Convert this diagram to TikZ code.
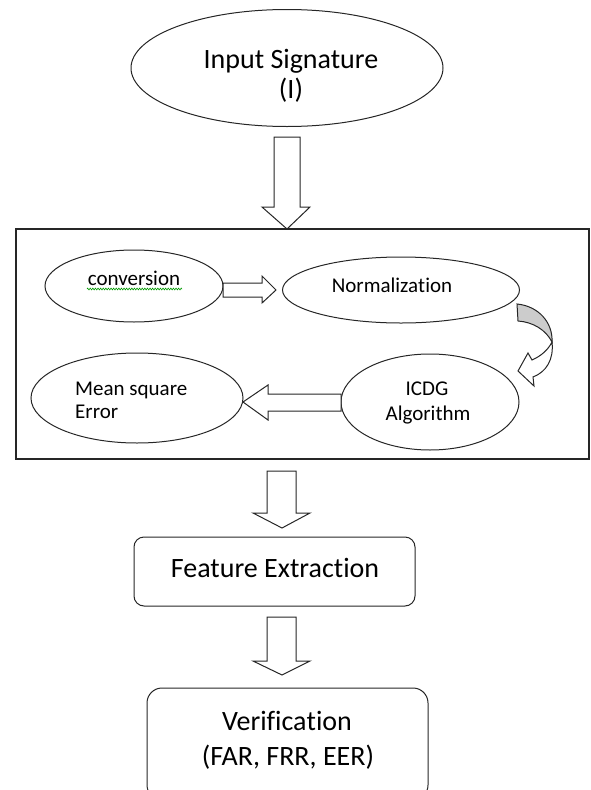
\documentclass[tikz,border=0pt]{standalone}
\usepackage{fontspec}
\setmainfont{Carlito}
\newcommand\brk{\kern0pt}
\usetikzlibrary{shapes.geometric,decorations.pathmorphing}
\begin{document}
\begin{tikzpicture}[x=1pt,y=-1pt,
  shapeline/.style={draw=black!85, line width=1pt},
  ell/.style={shapeline, ellipse, inner sep=0pt},
  bigtxt/.style={font=\fontsize{28}{30}\selectfont, anchor=base, inner sep=0pt},
  smalltxt/.style={font=\fontsize{21}{23}\selectfont, anchor=base, inner sep=0pt},
  blockarrow/.style={shapeline, fill=white, line join=miter},
]
\useasboundingbox (0,0) rectangle (590,790);

% top ellipse
\node[ell, minimum width=312pt, minimum height=117pt] (inp) at (287,68) {};
\node[bigtxt] (inpA) at (291,68) {Input Signature};
\node[bigtxt] (inpB) at (291,98) {(I)};

% down arrow 1
\draw[blockarrow] (274,137) -- (300,137) -- (300,207) -- (310,207) -- (287,229) -- (262,207) -- (274,207) -- cycle;

% frame
\draw[draw=black!85, line width=1.3pt] (16,229) rectangle (589,459);

% inner ellipses
\node[ell, minimum width=178pt, minimum height=72pt] (conv) at (134,286) {};
\node[smalltxt] (convT) at (134,285) {conversion};
\draw[green!60!black, line width=0.6pt, decorate, decoration={zigzag, segment length=2.6pt, amplitude=0.9pt}] (87,289) -- (182,289);

\node[ell, minimum width=237pt, minimum height=66pt] (norm) at (401,290) {};
\node[smalltxt] (normT) at (392,292) {Normaliza\brk t\brk ion};

\node[ell, minimum width=178pt, minimum height=96pt] (icdg) at (430,402) {};
\node[smalltxt] (icdgA) at (427,395) {ICDG};
\node[smalltxt] (icdgB) at (428,420) {Algorithm};

\node[ell, minimum width=212pt, minimum height=90pt] (mse) at (137,398) {};
\node[smalltxt, anchor=base west] (mseA) at (75,395) {Mean square};
\node[smalltxt, anchor=base west] (mseB) at (75,418) {Error};

% right arrow conv -> norm
\draw[blockarrow] (223,283) -- (262,283) -- (262,276) -- (276,290) -- (262,303) -- (262,297) -- (223,297) -- cycle;

% curved arrow norm -> icdg
\filldraw[shapeline, fill=gray!40] (517,304) .. controls (538,306) and (553,322) .. (552,342) .. controls (546,330) and (533,322) .. (518,321) -- cycle;
\filldraw[shapeline, fill=white, line join=miter] (552,342) .. controls (554,360) and (546,372) .. (533,377) -- (534,386) -- (518,371) -- (528,353) -- (532,360) .. controls (541,356) and (548,350) .. (552,342) -- cycle;

% left arrow icdg -> mse
\draw[blockarrow] (341,394) -- (268,394) -- (268,385) -- (243,402) -- (268,420) -- (268,411) -- (341,411) -- cycle;

% down arrow 2
\draw[blockarrow] (267,471) -- (296,471) -- (296,513) -- (310,513) -- (282,528) -- (253,513) -- (267,513) -- cycle;

% feature extraction
\draw[shapeline, rounded corners=10pt] (134,537) rectangle (415,606);
\node[bigtxt] (feat) at (275,577) {Feature Extrac\brk t\brk ion};

% down arrow 3
\draw[blockarrow] (267,617) -- (296,617) -- (296,661) -- (310,661) -- (282,675) -- (253,661) -- (267,661) -- cycle;

% verification
\draw[shapeline, rounded corners=15pt] (147,688) rectangle (428,800);
\node[bigtxt] (verA) at (287,730) {Veri\brk f\brk ica\brk t\brk ion};
\node[bigtxt] (verB) at (288,765) {(FAR, FRR, EER)};
\end{tikzpicture}
\end{document}
